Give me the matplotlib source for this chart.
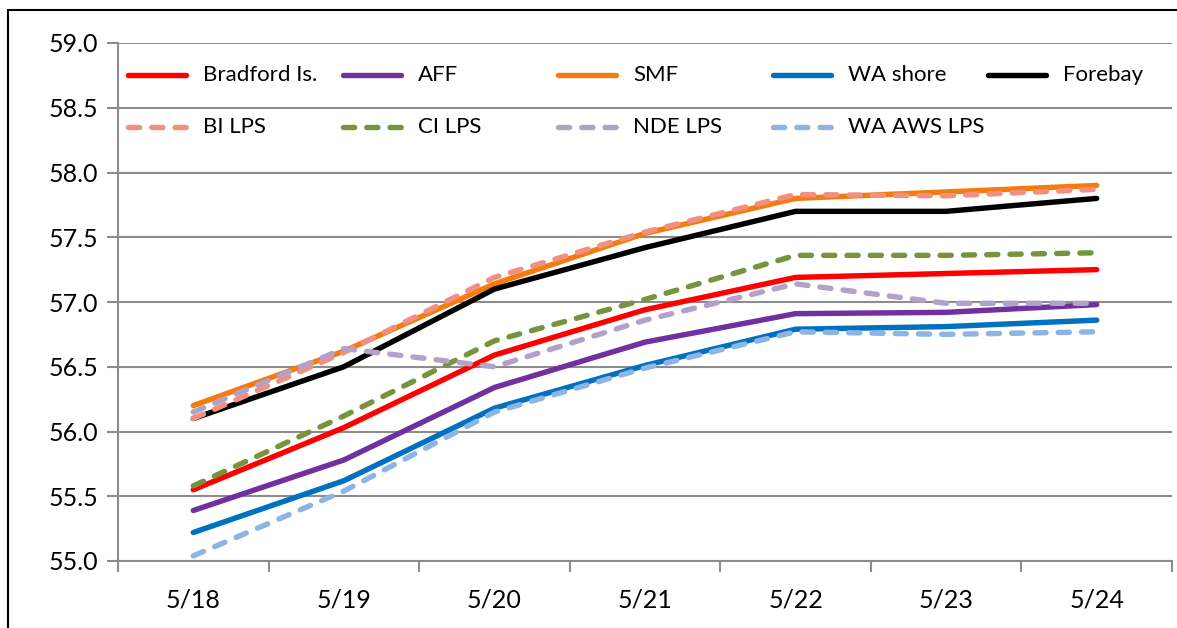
import matplotlib
matplotlib.use("Agg")
import matplotlib.pyplot as plt
from matplotlib.patches import Rectangle
from matplotlib.lines import Line2D

plt.rcParams['font.family'] = ['Lato', 'DejaVu Sans']

dates = ["5/18", "5/19", "5/20", "5/21", "5/22", "5/23", "5/24"]
bradford = [55.55, 56.03, 56.59, 56.94, 57.19, 57.22, 57.25]
aff = [55.39, 55.78, 56.34, 56.69, 56.91, 56.92, 56.98]
smf = [56.20, 56.62, 57.14, 57.53, 57.80, 57.85, 57.90]
wa_shore = [55.22, 55.62, 56.18, 56.51, 56.79, 56.81, 56.86]
forebay = [56.10, 56.50, 57.10, 57.42, 57.70, 57.70, 57.80]
bi_lps = [56.10, 56.61, 57.19, 57.54, 57.83, 57.82, 57.87]
ci_lps = [55.58, 56.12, 56.70, 57.02, 57.36, 57.36, 57.38]
nde_lps = [56.15, 56.64, 56.50, 56.86, 57.14, 56.99, 56.99]
wa_aws_lps = [55.04, 55.54, 56.15, 56.49, 56.77, 56.75, 56.77]

yticks = [55.0, 55.5, 56.0, 56.5, 57.0, 57.5, 58.0, 58.5, 59.0]

solid_series = [
    ("Bradford Is.", bradford, "#FF0000"),
    ("AFF", aff, "#7030A0"),
    ("SMF", smf, "#F47B0E"),
    ("WA shore", wa_shore, "#0070C0"),
    ("Forebay", forebay, "#000000"),
]
dashed_series = [
    ("BI LPS", bi_lps, "#F2907F"),
    ("CI LPS", ci_lps, "#77933C"),
    ("NDE LPS", nde_lps, "#B3A2C7"),
    ("WA AWS LPS", wa_aws_lps, "#8DB4E2"),
]

W, H = 1177, 628
fig = plt.figure(figsize=(W / 100, H / 100), dpi=100)
fig.patches.append(Rectangle((8 / W, -0.1), 1.2, (H - 10) / H + 0.1, transform=fig.transFigure,
                             fill=False, edgecolor="black", linewidth=1.5))
ax = fig.add_axes([118 / W, 67 / H, (1172 - 118) / W, (561 - 43) / H])

LW = 3.9
DASH = (0, (2.05, 2.25))
x = list(range(len(dates)))
for name, vals, col in solid_series:
    ax.plot(x, vals, color=col, lw=LW, solid_capstyle='round', solid_joinstyle='round', zorder=3)
for name, vals, col in dashed_series:
    ax.plot(x, vals, color=col, lw=LW, linestyle=DASH, dash_capstyle='round',
            dash_joinstyle='round', zorder=3)

ax.set_xlim(-0.5, 6.5)
ax.set_ylim(55.0, 59.0)
ax.set_yticks(yticks)
ax.set_yticklabels([f"{v:.1f}" for v in yticks], fontsize=18)
ax.yaxis.grid(True, color="#8C8C8C", linewidth=1.5, zorder=0)
ax.set_axisbelow(True)

ax.set_xticks([i - 0.5 for i in range(len(dates) + 1)])
ax.set_xticklabels([])
ax.set_xticks(x, minor=True)
ax.set_xticklabels(dates, minor=True, fontsize=18)
ax.tick_params(axis='x', which='major', length=8, width=1.5, color="#8C8C8C", direction='out')
ax.tick_params(axis='x', which='minor', length=0, pad=20)
ax.tick_params(axis='y', length=8, width=1.5, color="#8C8C8C", direction='out', pad=6)

for s in ["top", "right"]:
    ax.spines[s].set_visible(False)
for s in ["left", "bottom"]:
    ax.spines[s].set_color("#8C8C8C")
    ax.spines[s].set_linewidth(1.5)

# legend: five evenly spaced columns, two rows (Excel style)
col_x = [128, 343, 558, 773, 988]
row_y = [75, 127]
seg = 58
for i, (name, vals, col) in enumerate(solid_series):
    x0 = col_x[i]
    y0 = H - row_y[0]
    fig.add_artist(Line2D([x0 / W, (x0 + seg) / W], [y0 / H, y0 / H], transform=fig.transFigure,
                          color=col, lw=LW, solid_capstyle='round'))
    fig.text((x0 + seg + 17) / W, y0 / H, name, fontsize=16, va='center', ha='left')
for i, (name, vals, col) in enumerate(dashed_series):
    x0 = col_x[i]
    y0 = H - row_y[1]
    fig.add_artist(Line2D([x0 / W, (x0 + seg + 3) / W], [y0 / H, y0 / H], transform=fig.transFigure,
                          color=col, lw=LW, linestyle=DASH, dash_capstyle='round'))
    fig.text((x0 + seg + 17) / W, y0 / H, name, fontsize=16, va='center', ha='left')

fig.savefig("out.png", dpi=100)
